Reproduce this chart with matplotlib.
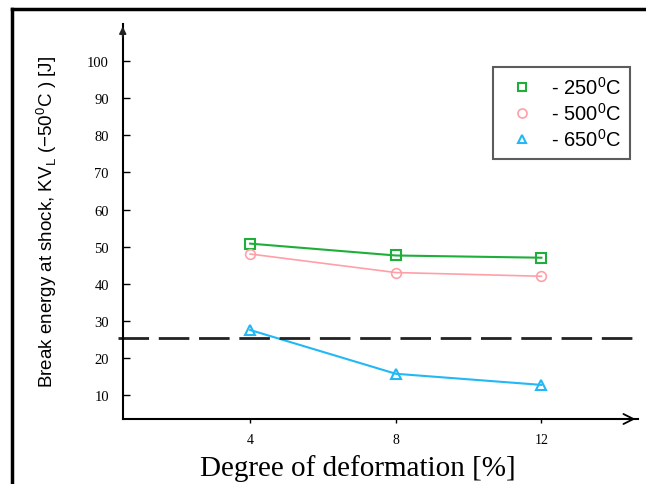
# 変形度と衝撃破断エネルギーの関係
import matplotlib.pyplot as plt
from matplotlib.lines import Line2D

#### -------- データ -------- ####
deformation = [4, 8, 12]
energy_250 = [50.8, 47.6, 47.0]
energy_500 = [48.0, 43.0, 42.0]
energy_650 = [27.5, 15.7, 12.7]
limit_energy = 25.3

x_ticks = [4, 8, 12]
y_ticks = [10, 20, 30, 40, 50, 60, 70, 80, 90, 100]
legend_labels = ["- 250$^0$C", "- 500$^0$C", "- 650$^0$C"]

#### -------- グラフ設定 -------- ####
plt.rcParams["font.family"] = ["Liberation Sans", "DejaVu Sans"]
plt.rcParams["mathtext.fontset"] = "custom"
plt.rcParams["mathtext.rm"] = "Liberation Sans"

fig = plt.figure(figsize=(6.46, 4.85), dpi=100)
ax = fig.add_axes([0.190, 0.134, 0.798, 0.815])

ax.plot(deformation, energy_250, color="#1fae3a", lw=1.5,
        marker="s", ms=6.5, mfc="none", mec="#1fae3a", mew=1.5)
ax.plot(deformation, energy_500, color="#ff9fa8", lw=1.2,
        marker="o", ms=7, mfc="none", mec="#ff9fa8", mew=1.2)
ax.plot(deformation, energy_650, color="#22b8f5", lw=1.5,
        marker="^", ms=7, mfc="none", mec="#22b8f5", mew=1.5)

ax.axhline(limit_energy, xmin=-0.01, xmax=1.0, color="#222222", lw=2,
           dashes=(11, 3.5), clip_on=False)

ax.set_xlim(0.5, 14.66)
ax.set_ylim(3.5, 110.1)
for s in ["top", "right"]:
    ax.spines[s].set_visible(False)
for s in ["left", "bottom"]:
    ax.spines[s].set_linewidth(1.5)

ax.set_xticks(x_ticks)
ax.set_xticklabels([str(v) for v in x_ticks], fontfamily="Liberation Serif",
                   fontsize=10)
ax.set_yticks(y_ticks)
ax.set_yticklabels([str(v) for v in y_ticks], fontfamily="Liberation Serif",
                   fontsize=10.5)
ax.tick_params(axis="y", direction="in", length=5, width=1, pad=10)
ax.tick_params(axis="x", direction="out", length=3, width=1, pad=7)

# 軸の矢印
ax.annotate("", xy=(1.0, 0), xytext=(0.94, 0), xycoords="axes fraction",
            arrowprops=dict(arrowstyle="->", lw=1.3, mutation_scale=18))
ax.annotate("", xy=(0, 1.0), xytext=(0, 0.96), xycoords="axes fraction",
            arrowprops=dict(arrowstyle="-|>", lw=1.3, mutation_scale=10,
                            color="#222222"))

ax.set_xlabel("Degree of deformation [%]", fontfamily="Liberation Serif",
              fontsize=21)
ax.xaxis.set_label_coords(0.456, -0.088)
ax.set_ylabel("Break energy at shock, KV$_\\mathregular{L}$ (\u221250$^0$C ) [J]",
              fontsize=13.5)
ax.yaxis.set_label_coords(-0.124, 0.5)

# 凡例
handles = [
    Line2D([], [], ls="none", marker="s", ms=6, mfc="none", mec="#1fae3a", mew=1.5),
    Line2D([], [], ls="none", marker="o", ms=6.5, mfc="none", mec="#ff9fa8", mew=1.2),
    Line2D([], [], ls="none", marker="^", ms=5.5, mfc="none", mec="#22b8f5", mew=1.5),
]
leg = ax.legend(handles, legend_labels, loc="upper right",
                bbox_to_anchor=(0.984, 0.891), fontsize=14.5, frameon=True,
                fancybox=False, edgecolor="#333333", handlelength=1.9,
                handletextpad=0.5, labelspacing=0.2, borderpad=0.45,
                borderaxespad=0)
leg.get_frame().set_linewidth(1.5)

# 外枠（上と左）
fig.add_artist(Line2D([12 / 646, 1.0], [1 - 10 / 485, 1 - 10 / 485],
                      transform=fig.transFigure, color="black", lw=2.5))
fig.add_artist(Line2D([12 / 646, 12 / 646], [1 - 10 / 485, 0.0],
                      transform=fig.transFigure, color="black", lw=2.5))

fig.savefig("out.png", dpi=100)
